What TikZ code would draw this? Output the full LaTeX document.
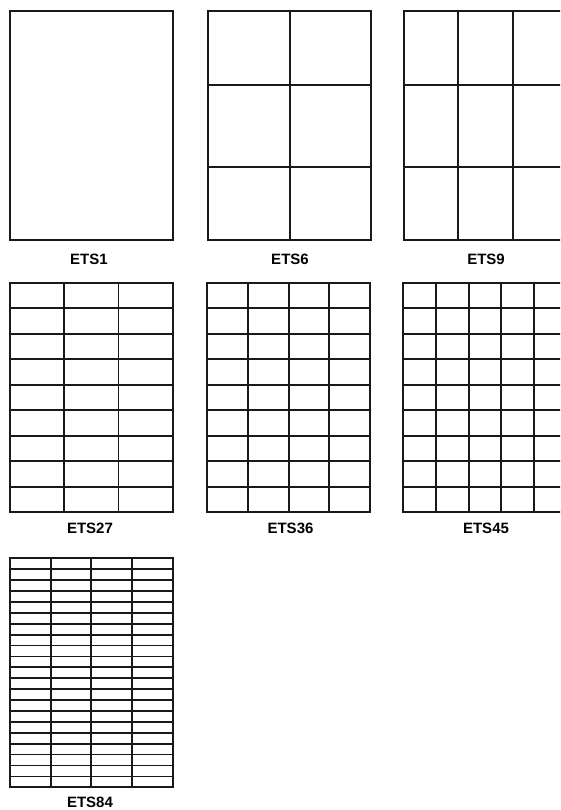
\documentclass[tikz,border=0pt]{standalone}
\usepackage{fontspec}
\setmainfont{Liberation Sans}
\newcommand\etsgrid[6]{% x0 y0 x1 y1 cols rows
  \draw[gridline] (#1,#2) rectangle (#3,#4);
  \pgfmathsetmacro\etscw{(#3-#1)/#5}
  \pgfmathsetmacro\etsrh{(#4-#2)/#6}
  \ifnum#5>1
    \foreach \i in {2,...,#5}{\draw[gridline] ({#1+(\i-1)*\etscw},#2) -- ({#1+(\i-1)*\etscw},#4);}
  \fi
  \ifnum#6>1
    \foreach \j in {2,...,#6}{\draw[gridline] (#1,{#2+(\j-1)*\etsrh}) -- (#3,{#2+(\j-1)*\etsrh});}
  \fi
}
\begin{document}
\begin{tikzpicture}[x=1pt,y=-1pt,
  gridline/.style={draw=black!90, line width=1.8pt},
  lab/.style={font=\bfseries\fontsize{15}{17}\selectfont, anchor=base, inner sep=0pt}]
\useasboundingbox (0,0) rectangle (560,810);
\fill[white] (0,0) rectangle (560,810);
\clip (0,0) rectangle (560,810);
% row 1
\etsgrid{10}{11}{172.7}{240}{1}{1}
\node[lab] (l1) at (89,264.5) {ETS1};
\etsgrid{208.3}{11}{371}{240}{2}{1}
\draw[gridline] (208.3,85.3) -- (371,85.3);
\draw[gridline] (208.3,166.7) -- (371,166.7);
\node[lab] (l6) at (290,264.5) {ETS6};
\etsgrid{404}{11}{567}{240}{3}{1}
\draw[gridline] (404,85.3) -- (567,85.3);
\draw[gridline] (404,166.7) -- (567,166.7);
\node[lab] (l9) at (486,264.5) {ETS9};
% row 2
\etsgrid{10}{282.7}{172.7}{512.3}{3}{9}
\node[lab] (l27) at (90,533.5) {ETS27};
\etsgrid{207.3}{282.7}{370}{512.3}{4}{9}
\node[lab] (l36) at (290.5,533.5) {ETS36};
\etsgrid{403.3}{282.7}{566.7}{512.3}{5}{9}
\node[lab] (l45) at (486,533.5) {ETS45};
% row 3
\etsgrid{10}{558.3}{172.7}{787.3}{4}{21}
\node[lab] (l84) at (90,807) {ETS84};
\end{tikzpicture}
\end{document}
